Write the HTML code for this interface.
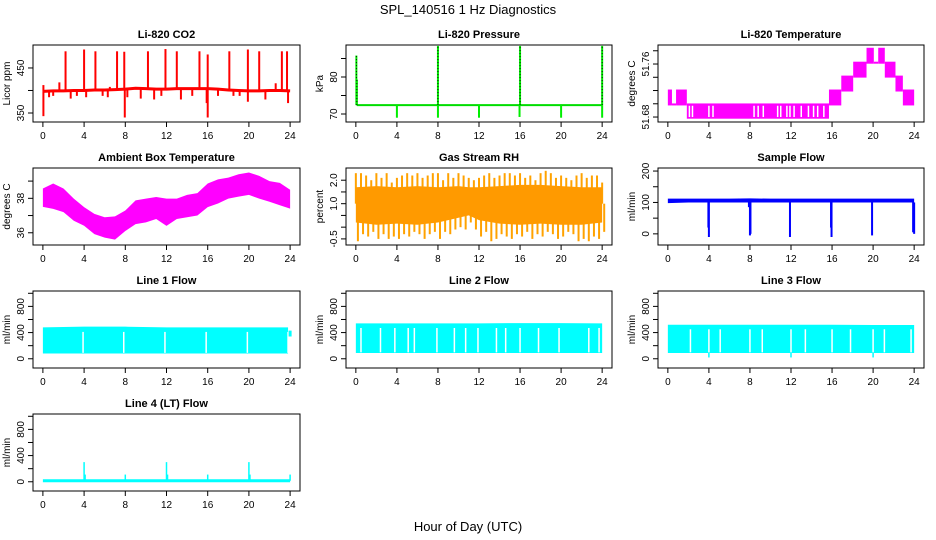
<!DOCTYPE html>
<html><head><meta charset="utf-8"><style>
html,body{margin:0;padding:0;background:#fff;}
svg{display:block;font-family:"Liberation Sans",Arial,sans-serif;}
</style></head><body>
<svg id="fig" width="936" height="540" viewBox="0 0 936 540" xmlns="http://www.w3.org/2000/svg">
<text x="468" y="14" text-anchor="middle" font-size="13">SPL_140516  1 Hz Diagnostics</text>
<text x="468" y="531" text-anchor="middle" font-size="13">Hour of Day (UTC)</text>
<g id="plots"></g>
</svg>
<script>
// ---- data ----
const xTicks = [0,4,8,12,16,20,24];
const co2BaseHours = [0,1,2,3,4,5,6,7,8,9,10,11,12,13,14,15,16,17,18,19,20,21,22,23,24];
const co2Base = [398,399,399,400,400,401,401,402,403,405,404,403,403,404,404,404,404,403,401,400,399,399,400,400,399];
const co2SpikeHours = [0.05,1.6,2.2,4.0,5.1,6.5,7.2,7.9,10.2,11.9,13.0,15.2,16.0,18.1,19.9,21.0,22.6,23.2,23.7];
const co2SpikeVals = [412,418,487,491,487,408,487,486,487,492,487,487,480,487,491,487,416,487,487];
const co2DipHours = [0.05,0.6,1.0,2.7,3.3,4.2,5.8,6.3,7.95,8.2,9.5,10.8,11.5,13.4,14.5,15.9,16.0,17.0,18.5,19.1,19.9,21.6,23.8];
const co2DipVals = [343,385,388,382,388,385,388,385,340,385,382,380,388,380,388,372,340,388,388,388,375,380,372];

const presBase = 72.4;
const presSpikeHours = [0.05,0.1,8.0,16.0,24.0];
const presSpikeVals = [85.8,79.3,88.4,88.4,88.4];
const presDipHours = [4.0,8.0,12.0,15.95,20.0,24.0];
const presDipVals = [69.0,69.0,69.0,69.2,69.0,69.0];

const tBandStart = [0.0,0.4,0.8,1.85,15.7,16.9,18.06,19.36,20.07,20.5,21.14,22.18,22.9];
const tBandEnd   = [0.4,0.8,1.85,15.7,16.9,18.06,19.36,20.07,20.5,21.14,22.18,22.9,24.0];
const tBandLo = [51.699,51.699,51.699,51.679,51.699,51.72,51.741,51.762,51.762,51.762,51.741,51.72,51.699];
const tBandHi = [51.72,51.699,51.72,51.699,51.72,51.741,51.762,51.783,51.762,51.783,51.762,51.741,51.72];
const tGapHours = [2.1,2.4,4.0,4.4,8.4,8.8,9.3,10.7,11.0,11.6,11.9,12.3,13.0,13.7,14.2,14.6,15.2];

const ambHours = [0,1,2,3,4,5,6,7,8,9,10,11,12,13,14,15,16,17,18,19,20,21,22,23,24];
const ambHi = [38.57,38.86,38.57,37.98,37.49,37.1,36.9,36.95,37.29,37.88,37.98,38.08,37.98,37.98,38.2,38.3,38.86,39.1,39.2,39.4,39.5,39.3,39.0,38.9,38.5];
const ambLo = [37.5,37.39,37.2,36.7,36.41,35.92,35.72,35.6,36.1,36.5,36.6,36.8,36.4,36.8,36.9,37.0,37.49,37.7,37.98,38.1,38.2,37.98,37.8,37.6,37.4];

const rhCoreHours = [0,2,4,6,8,10,11,12,14,16,18,20,22,24];
const rhCoreHi = [1.7,1.75,1.7,1.75,1.7,1.75,1.7,1.7,1.75,1.8,1.8,1.75,1.7,1.7];
const rhCoreLo = [0.2,0.1,0.15,0.1,0.2,0.4,0.5,0.3,0.15,0.1,0.15,0.1,0.1,0.2];
const rhSpikeHours = [0,0.5,1,1.5,2,2.5,3,3.5,4,4.5,5,5.5,6,6.5,7,7.5,8,8.5,9,9.5,10,10.5,11,11.5,12,12.5,13,13.5,14,14.5,15,15.5,16,16.5,17,17.5,18,18.5,19,19.5,20,20.5,21,21.5,22,22.5,23,23.5,24];
const rhHi = [2.3,2.3,2.2,2.0,2.3,2.1,2.3,1.9,2.1,2.2,2.3,2.2,2.3,2.1,2.2,2.3,2.3,2.0,2.3,2.1,2.3,2.2,2.1,2.0,2.1,2.2,2.3,2.1,2.2,2.3,2.3,2.2,2.3,2.1,2.2,2.0,2.3,2.4,2.3,2.1,2.2,2.1,2.0,2.2,2.3,2.1,2.2,2.2,1.9];
const rhLo = [-0.6,-0.3,-0.4,-0.2,-0.5,-0.3,-0.5,-0.4,-0.5,-0.3,-0.4,-0.2,-0.3,-0.5,-0.3,-0.2,-0.5,-0.2,-0.3,-0.1,0.0,-0.1,0.2,-0.1,-0.4,-0.2,-0.6,-0.5,-0.3,-0.4,-0.5,-0.3,-0.4,-0.2,-0.5,-0.3,-0.4,-0.2,-0.3,-0.5,-0.4,-0.2,-0.3,-0.6,-0.5,-0.6,-0.4,-0.5,-0.2];

const sfHours = [0,2,4,6,8,10,12,14,16,18,20,22,24];
const sfHi = [112,112,112,112,113,112,112,112,112,112,112,112,112];
const sfLo = [98,100,100,100,100,100,100,100,100,100,100,100,100];
const sfDipHours = [3.95,4.0,7.9,8.0,8.05,11.9,15.9,15.95,19.9,23.9,24.0];
const sfDipVals = [20,-10,85,-5,0,-10,20,-10,-5,5,0];

const l1Hours = [0,4,8,12,16,20,23.8];
const l1Hi = [480,490,490,480,480,480,480];
const l1Lo = [80,80,80,80,80,80,80];
const l1Gaps = [3.9,7.85,11.85,15.85,19.85,23.8];

const l2Hours = [0,4,8,12,16,20,24];
const l2Hi = [540,540,540,540,545,545,540];
const l2Lo = [88,88,88,88,88,88,88];
const l2Gaps = [0.5,2.4,3.8,5.1,5.7,7.9,9.6,10.7,11.9,13.7,14.6,16.0,17.8,19.8,22.7,23.7];

const l3Hours = [0,4,8,12,16,20,24];
const l3Hi = [520,520,520,520,520,515,515];
const l3Lo = [88,88,88,88,88,88,88];
const l3Gaps = [2.2,4.0,5.1,8.0,9.2,12.0,13.4,16.0,17.8,20.0,21.1,23.7];
const l3DipHours = [4.0,12.0,20.0];
const l3DipVals = [20,20,20];

const l4Base = 15;
const l4SpikeHours = [4.0,4.1,8.0,12.0,12.1,16.0,20.0,20.1,24.0];
const l4SpikeVals = [300,110,110,300,110,110,300,110,110];

// ---- helpers ----
const NS = 'http://www.w3.org/2000/svg';
const root = document.getElementById('plots');
function mk(tag, attrs, parent){ const e=document.createElementNS(NS,tag); for(const k in attrs) e.setAttribute(k,attrs[k]); (parent||root).appendChild(e); return e; }
const colX = [33,346,658], colW = [267,266,266];
const rowY = [45,168,291,414], H = 77;
function panel(c,r,ymin,ymax){
  const x0=colX[c], w=colW[c], y0=rowY[r];
  return {x0,y0,w,h:H,
    sx:v=>x0+(v+0.96)/25.92*w,
    sy:v=>y0+H-(v-ymin)/(ymax-ymin)*H};
}
function axes(p,name,title,ylab,yt,yl){
  const g=mk('g',{});
  
  
  const b=mk('rect',{x:p.x0,y:p.y0,width:p.w,height:p.h,fill:'none',stroke:'#000','stroke-width':1},g);
  
  
  const t=mk('text',{x:p.x0+p.w/2,y:p.y0-7,'text-anchor':'middle','font-size':11,'font-weight':'bold'},g);
  t.textContent=title;
  
  
  const yb=p.y0+p.h;
  xTicks.forEach(v=>{
    const x=p.sx(v);
    mk('line',{x1:x,x2:x,y1:yb,y2:yb+5,stroke:'#000'},g);
    const l=mk('text',{x:x,y:yb+17,'text-anchor':'middle','font-size':10},g);
    l.textContent=v;
    
    
  });
  yt.forEach((v,i)=>{
    const y=p.sy(v);
    mk('line',{x1:p.x0-5,x2:p.x0,y1:y,y2:y,stroke:'#000'},g);
    if(yl[i]){
      const l=mk('text',{x:p.x0-9,y:y,'text-anchor':'middle','font-size':10,transform:`rotate(-90 ${p.x0-9} ${y})`},g);
      l.textContent=yl[i];
      
      
    }
  });
  const cy=p.y0+p.h/2;
  const yt2=mk('text',{x:p.x0-23,y:cy,'text-anchor':'middle','font-size':10,transform:`rotate(-90 ${p.x0-23} ${cy})`},g);
  yt2.textContent=ylab;
  
  
}
function vline(p,x,v1,v2,col,w,name){
  const e=mk('line',{x1:p.sx(x),x2:p.sx(x),y1:p.sy(v1),y2:p.sy(v2),stroke:col,'stroke-width':w});
  
  
  return e;
}
function band(p,hours,hi,lo,fill,name){
  const pts=hours.map((h,i)=>p.sx(h)+','+p.sy(hi[i])).concat(hours.slice().reverse().map((h,j)=>{const i=hours.length-1-j;return p.sx(h)+','+p.sy(lo[i]);}));
  const e=mk('polygon',{points:pts.join(' '),fill:fill});
  
  
  return e;
}

// ---- CO2 ----
{const p=panel(0,0,330,501);
 co2SpikeHours.forEach((h,i)=>vline(p,h,co2Base[Math.round(h)],co2SpikeVals[i],'#ff0000',2,'co2-spike'));
 co2DipHours.forEach((h,i)=>vline(p,h,co2Base[Math.round(h)],co2DipVals[i],'#ff0000',2,'co2-dip'));
 const l=mk('polyline',{points:co2BaseHours.map((h,i)=>p.sx(h)+','+p.sy(co2Base[i])).join(' '),fill:'none',stroke:'#ff0000','stroke-width':3});
 
 
 axes(p,'co2','Li-820 CO2','Licor ppm',[350,400,450],['350','','450']);}

// ---- Pressure ----
{const p=panel(1,0,67.84,88.65);
 const l=mk('line',{x1:p.sx(0.1),x2:p.sx(24),y1:p.sy(presBase),y2:p.sy(presBase),stroke:'#00dd00','stroke-width':2});
 
 
 presSpikeHours.forEach((h,i)=>{vline(p,h,presBase,presSpikeVals[i],'#00ee00',2,'pressure-spike');
   const d=vline(p,h,presBase,presSpikeVals[i],'#000',1,'pressure-spike-dots'); d.setAttribute('stroke-dasharray','1 2');});
 presDipHours.forEach((h,i)=>vline(p,h,presBase,presDipVals[i],'#00ee00',2,'pressure-dip'));
 axes(p,'pressure','Li-820 Pressure','kPa',[70,75,80,85],['70','','80','']);}

// ---- Li-820 Temperature ----
{const p=panel(2,0,51.6725,51.7887);
 tBandStart.forEach((s,i)=>{
   const y1=p.sy(tBandHi[i]), y2=p.sy(tBandLo[i]);
   const e=mk('rect',{x:p.sx(s),y:y1-1,width:p.sx(tBandEnd[i])-p.sx(s),height:Math.max(2,y2-y1+2),fill:'#ff00ff'});
   
   
 });
 tGapHours.forEach(h=>vline(p,h,51.680,51.697,'#fff',1.5,'temperature-gap'));
 axes(p,'li820-temp','Li-820 Temperature','degrees C',[51.68,51.70,51.72,51.74,51.76,51.78],['51.68','','','','51.76','']);}

// ---- Ambient ----
{const p=panel(0,1,35.29,39.76);
 band(p,ambHours,ambHi,ambLo,'#ff00ff','ambient-temp-band');
 axes(p,'ambient','Ambient Box Temperature','degrees C',[36,37,38,39],['36','','38','']);}

// ---- RH ----
{const p=panel(1,1,-0.76,2.52);
 rhSpikeHours.forEach((h,i)=>{vline(p,h,1.0,rhHi[i],'#ffa200',2,'rh-spike-high'); vline(p,h+0.2,1.0,rhLo[i],'#ffa200',2,'rh-spike-low');});
 band(p,rhCoreHours,rhCoreHi,rhCoreLo,'#ff9a00','rh-core-band');
 axes(p,'rh','Gas Stream RH','percent',[-0.5,0,0.5,1.0,1.5,2.0],['-0.5','','','1.0','','2.0']);}

// ---- Sample flow ----
{const p=panel(2,1,-35.5,209.7);
 band(p,sfHours,sfHi,sfLo,'#0000ff','sample-flow-band');
 sfDipHours.forEach((h,i)=>vline(p,h,100,sfDipVals[i],'#0000ff',2,'sample-flow-dip'));
 axes(p,'sample-flow','Sample Flow','ml/min',[0,50,100,150,200],['0','','100','','200']);}

// ---- Line flows ----
function flow(c,r,name,title,hours,hi,lo,gaps){
  const p=panel(c,r,-141,1035);
  band(p,hours,hi,lo,'#00ffff',name+'-band');
  gaps.forEach(h=>vline(p,h,lo[0]+10,hi[0]-70,'#fff',1.5,name+'-gap'));
  return p;
}
{const p=flow(0,2,'line1-flow','Line 1 Flow',l1Hours,l1Hi,l1Lo,l1Gaps);
 vline(p,24,340,430,'#00ffff',3,'line1-flow-tail');
 axes(p,'line1','Line 1 Flow','ml/min',[0,200,400,600,800,1000],['0','','400','','800','']);}
{const p=flow(1,2,'line2-flow','Line 2 Flow',l2Hours,l2Hi,l2Lo,l2Gaps);
 axes(p,'line2','Line 2 Flow','ml/min',[0,200,400,600,800,1000],['0','','400','','800','']);}
{const p=flow(2,2,'line3-flow','Line 3 Flow',l3Hours,l3Hi,l3Lo,l3Gaps);
 l3DipHours.forEach((h,i)=>vline(p,h,l3Lo[0],l3DipVals[i],'#00ffff',1.5,'line3-flow-dip'));
 axes(p,'line3','Line 3 Flow','ml/min',[0,200,400,600,800,1000],['0','','400','','800','']);}
{const p=panel(0,3,-141,1035);
 const l=mk('line',{x1:p.sx(0),x2:p.sx(24),y1:p.sy(l4Base),y2:p.sy(l4Base),stroke:'#00ffff','stroke-width':3});
 
 
 l4SpikeHours.forEach((h,i)=>vline(p,h,l4Base,l4SpikeVals[i],'#00ffff',1.5,'line4-flow-spike'));
 axes(p,'line4','Line 4 (LT) Flow','ml/min',[0,200,400,600,800,1000],['0','','400','','800','']);}
</script>
</body></html>
